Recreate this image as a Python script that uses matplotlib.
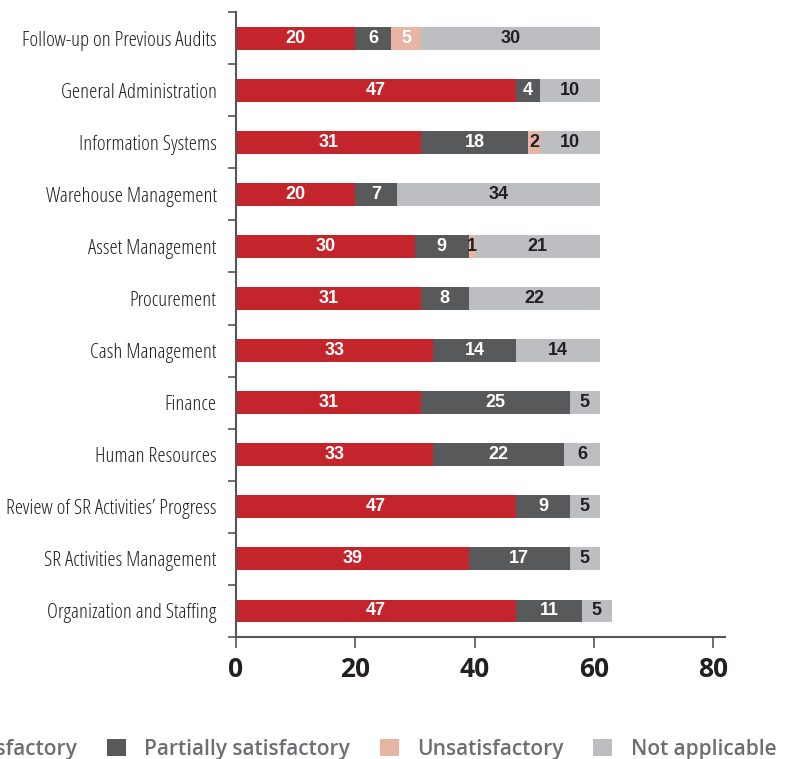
import matplotlib.pyplot as plt
import numpy as np
from matplotlib.ticker import FixedLocator

categories = [
    'Follow-up on Previous Audits',
    'General Administration',
    'Information Systems',
    'Warehouse Management',
    'Asset Management',
    'Procurement',
    'Cash Management',
    'Finance',
    'Human Resources',
    'Review of SR Activities\u2019 Progress',
    'SR Activities Management',
    'Organization and Staffing',
]
series_names = ['Satisfactory', 'Partially satisfactory', 'Unsatisfactory', 'Not applicable']
satisfactory = [20, 47, 31, 20, 30, 31, 33, 31, 33, 47, 39, 47]
partially = [6, 4, 18, 7, 9, 8, 14, 25, 22, 9, 17, 11]
unsatisfactory = [5, 0, 2, 0, 1, 0, 0, 0, 0, 0, 0, 0]
not_applicable = [30, 10, 10, 34, 21, 22, 14, 5, 6, 5, 5, 5]
x_ticks = [0, 20, 40, 60, 80]

colors = ['#C4242B', '#58595B', '#E8B5A5', '#BDBEC2']
dark = '#231F20'
fam = ['Open Sans', 'DejaVu Sans']

fig = plt.figure(figsize=(7.87, 7.59), dpi=100)
ax = fig.add_axes([236 / 787, 1 - 637 / 759, (725 - 236) / 787, (637 - 12) / 759])

y = np.arange(len(categories))
left = np.zeros(len(categories))
for name, vals, col in zip(series_names,
                           [satisfactory, partially, unsatisfactory, not_applicable], colors):
    vals = np.array(vals, dtype=float)
    ax.barh(y, vals, left=left, height=0.44, color=col, label=name, linewidth=0)
    for yi, l, v in zip(y, left, vals):
        if v <= 0:
            continue
        if col == colors[3] or (col == colors[2] and v < 3):
            tc = dark
        else:
            tc = 'white'
        ax.text(l + v / 2, yi, f'{int(v)}', ha='center', va='center', color=tc,
                fontsize=13, fontweight='bold', family=['Liberation Sans', 'DejaVu Sans'])
    left += vals

ax.set_xlim(0, 82)
ax.set_ylim(len(categories) - 0.5, -0.5)
ax.set_xticks(x_ticks)
ax.set_xticklabels([str(t) for t in x_ticks], fontsize=19, fontweight='bold', color=dark,
                   family=fam, fontstretch='condensed')
ax.set_yticks(y)
ax.set_yticklabels(categories, fontsize=15, color=dark, family=fam, fontstretch='condensed')
ax.yaxis.set_minor_locator(FixedLocator(np.arange(len(categories) + 1) - 0.5))
ax.tick_params(axis='y', which='major', length=0, pad=14)
ax.tick_params(axis='y', which='minor', length=6, width=1.2, color='#555555', direction='out')
ax.tick_params(axis='x', length=8, width=1.2, color='#555555', direction='out', pad=6)

for s in ['top', 'right']:
    ax.spines[s].set_visible(False)
for s in ['left', 'bottom']:
    ax.spines[s].set_color('#555555')
    ax.spines[s].set_linewidth(1.5)

handles, labels = ax.get_legend_handles_labels()
fig.legend(handles, labels, loc='lower right', bbox_to_anchor=(785 / 787, -0.012), ncol=4,
           frameon=False, handlelength=0.92, handleheight=0.92, handletextpad=0.9,
           columnspacing=1.4, borderaxespad=0,
           prop={'family': fam, 'weight': 'semibold', 'size': 15},
           labelcolor='#6D6E71')

fig.savefig('out.png', dpi=100)
